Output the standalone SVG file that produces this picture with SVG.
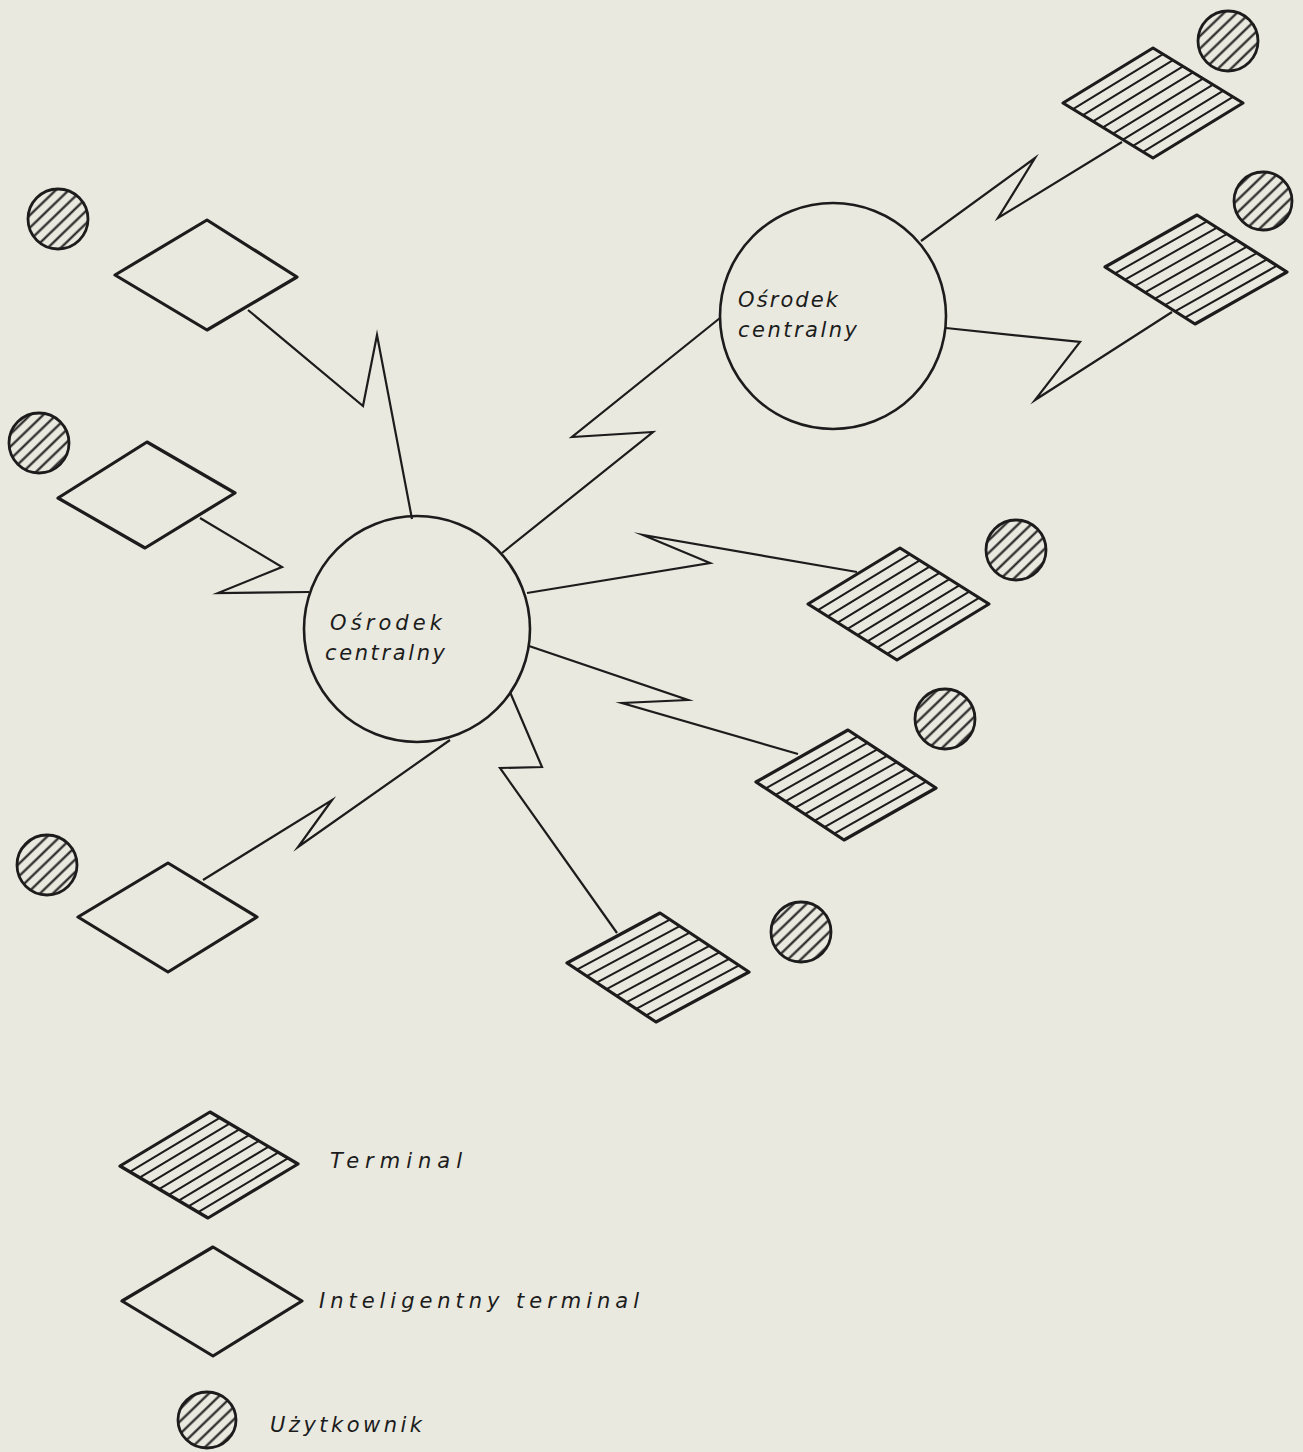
<svg xmlns="http://www.w3.org/2000/svg" width="1303" height="1452" viewBox="0 0 1303 1452">
<style>
.bg{fill:#e9e9df}
.hub{fill:none;stroke:#1c1c1c;stroke-width:2.6}
.link{fill:none;stroke:#1c1c1c;stroke-width:2.2;stroke-linejoin:miter;stroke-miterlimit:10}
.it{fill:none;stroke:#1c1c1c;stroke-width:3.2;stroke-linejoin:round}
.te{fill:none;stroke:#1c1c1c;stroke-width:3.2;stroke-linejoin:round}
.th{fill:none;stroke:#1c1c1c;stroke-width:2}
.user{fill:url(#userHatch);stroke:#1c1c1c;stroke-width:2.8}
.lbl{font-family:"DejaVu Sans","Liberation Sans",sans-serif;font-style:italic;font-size:21px;fill:#1c1c1c}
</style>
<defs>
<pattern id="userHatch" patternUnits="userSpaceOnUse" width="9" height="9" patternTransform="rotate(-44)">
<rect width="9" height="9" fill="#e9e9df"/>
<line x1="-1" y1="4.5" x2="10" y2="4.5" stroke="#1c1c1c" stroke-width="2.1"/>
</pattern>
<g id="term">
<path class="th" vector-effect="non-scaling-stroke" d="M0,0.1111H1M0,0.2222H1M0,0.3333H1M0,0.4444H1M0,0.5556H1M0,0.6667H1M0,0.7778H1M0,0.8889H1"/>
<path class="te" vector-effect="non-scaling-stroke" d="M0,0L1,0L1,1L0,1Z"/>
</g>
</defs>
<rect class="bg" x="0" y="0" width="1303" height="1452"/>

<g id="connectors">
<polyline class="link" points="248,310 363,406 377,335 412,519"/>
<polyline class="link" points="200,518 282,567 218,593 309,592"/>
<polyline class="link" points="720,318 572,437 653,432 502,553"/>
<polyline class="link" points="527,593 710,563 643,535 857,572"/>
<polyline class="link" points="529,646 688,700 622,703 798,754"/>
<polyline class="link" points="510,692 542,767 500,768 617,933"/>
<polyline class="link" points="450,740 298,847 332,800 203,880"/>
<polyline class="link" points="921,241 1035,158 998,218 1122,142"/>
<polyline class="link" points="946,328 1080,342 1035,400 1172,312"/>
</g>

<g id="hub-top">
<circle class="hub" cx="833" cy="316" r="113"/>
<text class="lbl" x="738" y="307" textLength="100" lengthAdjust="spacing">Ośrodek</text>
<text class="lbl" x="738" y="337" textLength="119" lengthAdjust="spacing">centralny</text>
</g>
<g id="hub-left">
<circle class="hub" cx="417" cy="629" r="113"/>
<text class="lbl" x="330" y="630" textLength="112" lengthAdjust="spacing">Ośrodek</text>
<text class="lbl" x="325" y="660" textLength="120" lengthAdjust="spacing">centralny</text>
</g>

<g id="terminal-1"><use href="#term" transform="matrix(90,-55,90,55,1063,103)"/></g>
<g id="terminal-2"><use href="#term" transform="matrix(92,-52,90,57,1105,267)"/></g>
<g id="terminal-3"><use href="#term" transform="matrix(92,-56,89,56,808,604)"/></g>
<g id="terminal-4"><use href="#term" transform="matrix(92,-52,88,58,756,782)"/></g>
<g id="terminal-5"><use href="#term" transform="matrix(93,-50,89,59,567,963)"/></g>

<g id="intelligent-1"><polygon class="it" points="115,275 207,220 297,277 207,330"/></g>
<g id="intelligent-2"><polygon class="it" points="58,498 147,442 235,493 145,548"/></g>
<g id="intelligent-3"><polygon class="it" points="78,917 168,863 257,917 168,972"/></g>

<g id="user-1"><circle class="user" cx="1228" cy="41" r="30"/></g>
<g id="user-2"><circle class="user" cx="1263" cy="201" r="29"/></g>
<g id="user-3"><circle class="user" cx="1016" cy="550" r="30"/></g>
<g id="user-4"><circle class="user" cx="945" cy="719" r="30"/></g>
<g id="user-5"><circle class="user" cx="801" cy="932" r="30"/></g>
<g id="user-6"><circle class="user" cx="58" cy="219" r="30"/></g>
<g id="user-7"><circle class="user" cx="39" cy="443" r="30"/></g>
<g id="user-8"><circle class="user" cx="47" cy="865" r="30"/></g>

<g id="legend">
<g id="legend-terminal">
<use href="#term" transform="matrix(90,-54,88,52,120,1166)"/>
<text class="lbl" x="330" y="1168" textLength="132" lengthAdjust="spacing">Terminal</text>
</g>
<g id="legend-intelligent">
<polygon class="it" points="122,1301 213,1247 302,1301 213,1356"/>
<text class="lbl" x="319" y="1308" textLength="320" lengthAdjust="spacing">Inteligentny terminal</text>
</g>
<g id="legend-user">
<ellipse class="user" cx="207" cy="1420" rx="29" ry="28"/>
<text class="lbl" x="270" y="1432" textLength="152" lengthAdjust="spacing">Użytkownik</text>
</g>
</g>
</svg>
